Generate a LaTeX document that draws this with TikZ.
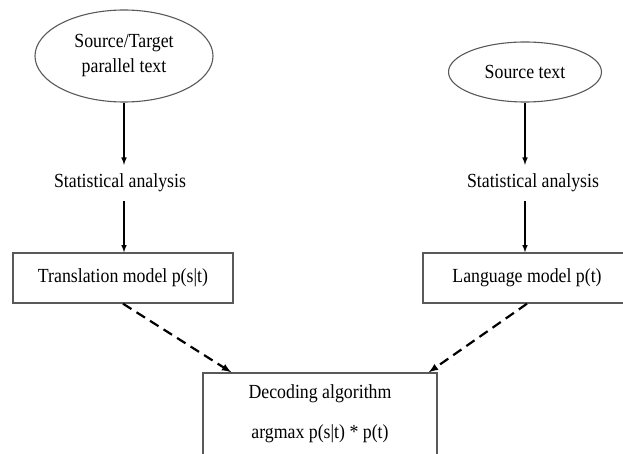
\documentclass[tikz,border=0pt]{standalone}
\usepackage{fontspec}
\setmainfont{Liberation Serif}[FakeStretch=0.89]
\usetikzlibrary{shapes.geometric,arrows}
\begin{document}
\begin{tikzpicture}[x=1pt,y=-1pt,
  every node/.style={font=\fontsize{20}{25}\selectfont},
  datum/.style={draw=gray!70!black,line width=1.1pt,ellipse,align=center,inner sep=0pt},
  modelbox/.style={draw=gray!70!black,line width=1.4pt,rectangle,inner sep=0pt,minimum height=50pt},
  flow/.style={->,>=latex,line width=1.5pt},
  feed/.style={->,>=latex,line width=2.2pt,dash pattern=on 10pt off 6pt}]

\useasboundingbox (0,0) rectangle (623,454);

\node[datum,minimum width=178pt,minimum height=92pt] (pair) at (124,56) {Source/Target\\parallel text};
\node[datum,minimum width=153pt,minimum height=60pt] (mono) at (525,72) {Source text};

\node[inner sep=0pt,minimum height=36pt] (statl) at (120,183) {Statistical analysis};
\node[inner sep=0pt,minimum height=36pt] (statr) at (533,183) {Statistical analysis};

\node[modelbox,minimum width=220pt] (trans) at (123,278) {Translation model p(s|t)};
\node[modelbox,minimum width=208pt] (lang) at (527,278) {Language model p(t)};

\node[modelbox,minimum width=234pt,minimum height=82pt,align=center] (decode) at (320,414)
  {Decoding algorithm\\[15pt]argmax p(s|t) * p(t)};

\draw[flow] (pair.south) -- (pair.south |- statl.north);
\draw[flow] (pair.south |- statl.south) -- (pair.south |- trans.north);
\draw[flow] (mono.south) -- (mono.south |- statr.north);
\draw[flow] (mono.south |- statr.south) -- (mono.south |- lang.north);

\draw[feed] (trans.south) -- ([xshift=29pt]decode.north west);
\draw[feed] (lang.south) -- ([xshift=-9pt]decode.north east);

\end{tikzpicture}
\end{document}
